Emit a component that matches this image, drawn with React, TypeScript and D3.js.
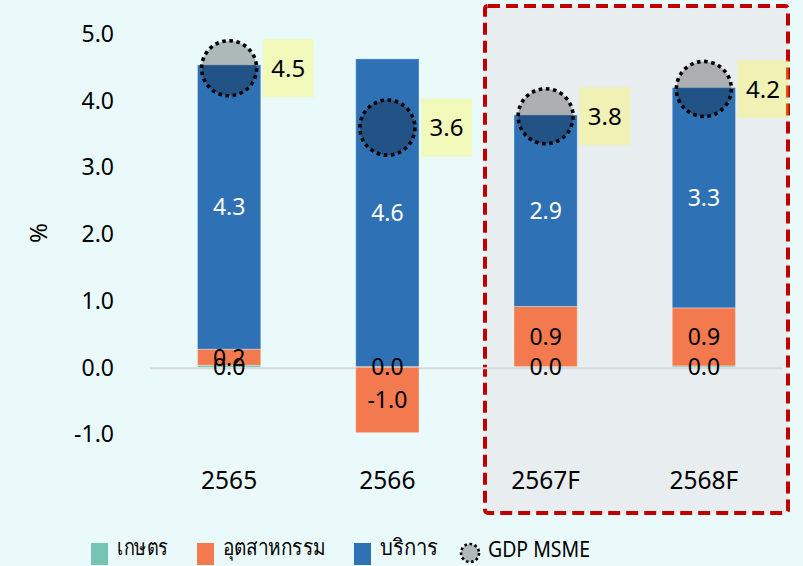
import React from "react";
import * as d3 from "d3";

const categories = ["2565", "2566", "2567F", "2568F"];
const agriculture = [0.03, 0.01, 0.01, 0.02];
const industry = [0.24, -0.98, 0.9, 0.87];
const services = [4.26, 4.61, 2.87, 3.3];
const gdpMsme = [4.48, 3.59, 3.76, 4.17];
const yTicks = [-1, 0, 1, 2, 3, 4, 5];
const seriesNames = ["เกษตร", "อุตสาหกรรม", "บริการ"];
const gdpName = "GDP MSME";

const W = 803;
const H = 566;
const FONT = '"Noto Sans", "DejaVu Sans", sans-serif';
const colors = ["#76c4b1", "#f27a4e", "#2f71b5"];
const labelColors = ["#000", "#000", "#fff"];

export default function App() {
  const x = d3.scaleBand<string>().domain(categories).range([150, 783]).paddingInner(0.6).paddingOuter(0.3);
  const y = d3.scaleLinear().domain([-1, 5]).range([434, 33.5]);
  const rows = categories.map((c, i) => ({ cat: c, a: agriculture[i], b: industry[i], c: services[i] }));
  const stack = d3.stack<any>().keys(["a", "b", "c"]).offset(d3.stackOffsetDiverging);
  const series = stack(rows);
  const bw = x.bandwidth();

  return (
    <svg width={W} height={H} style={{ position: "absolute", left: 0, top: 0, display: "block" }} fontFamily={FONT}>
      <rect x={0} y={0} width={W} height={H} fill="#eafafa" />
      <rect x={485} y={6} width={303} height={507} rx={3} fill="#e8edf0" stroke="#c00000" strokeWidth={4} strokeDasharray="12 6" />
      {yTicks.map((t) => (
        <text key={t} x={114} y={y(t)} dy="0.36em" textAnchor="end" fontSize={23} fill="#000">
          {t.toFixed(1)}
        </text>
      ))}
      <text transform={`translate(38,233) rotate(-90)`} textAnchor="middle" dy="0.36em" fontSize={24} fill="#000">%</text>
      <line x1={150} x2={783} y1={y(0) + 1} y2={y(0) + 1} stroke="#d9d9d9" strokeWidth={2} />
      {series.map((s, si) =>
        s.map((d, i) => (
          <rect key={`${si}-${i}`} x={x(categories[i])} width={bw}
            y={Math.min(y(d[0]), y(d[1]))} height={Math.abs(y(d[0]) - y(d[1]))}
            fill={colors[si]} stroke="rgba(255,255,255,0.35)" strokeWidth={1} />
        ))
      )}
      {series.map((s, si) =>
        s.map((d, i) => (
          <text key={`l${si}-${i}`} x={(x(categories[i]) as number) + bw / 2} y={(y(d[0]) + y(d[1])) / 2}
            dy="0.36em" textAnchor="middle" fontSize={23} fill={labelColors[si]}>
            {(d.data as any)[["a", "b", "c"][si]].toFixed(1)}
          </text>
        ))
      )}
      {gdpMsme.map((v, i) => {
        const cx = (x(categories[i]) as number) + bw / 2;
        const cy = y(v);
        const bx = (x(categories[i]) as number) + bw + 2;
        return (
          <g key={`g${i}`}>
            <circle cx={cx} cy={cy} r={27.5} fill="rgba(0,0,0,0.26)" stroke="#000" strokeWidth={3.6} strokeDasharray="3.6 3.6" />
            <rect x={bx} y={cy - 29} width={51} height={58} fill="rgba(255,248,60,0.33)" />
            <text x={bx + 25.5} y={cy} dy="0.36em" textAnchor="middle" fontSize={24} fill="#000">{v.toFixed(1)}</text>
          </g>
        );
      })}
      {categories.map((c) => (
        <text key={c} x={(x(c) as number) + bw / 2} y={480} dy="0.36em" textAnchor="middle" fontSize={24.5} fill="#000">{c}</text>
      ))}
      {/* legend */}
      {[
        { x: 91, tx: 117, w: 51 },
        { x: 197, tx: 223, w: 103 },
        { x: 354, tx: 380, w: 58 },
      ].map((l, i) => (
        <g key={`lg${i}`}>
          <rect x={l.x} y={543} width={17} height={22} fill={colors[i]} />
          <text x={l.tx} y={547} dy="0.36em" fontSize={22} fill="#000" textLength={l.w} lengthAdjust="spacingAndGlyphs">{seriesNames[i]}</text>
        </g>
      ))}
      <circle cx={470} cy={553} r={9} fill="#b0b8b8" stroke="#000" strokeWidth={2.6} strokeDasharray="2.6 2.6" />
      <text x={488} y={549} dy="0.36em" fontSize={21} fill="#000" textLength={102} lengthAdjust="spacingAndGlyphs">{gdpName}</text>
    </svg>
  );
}
